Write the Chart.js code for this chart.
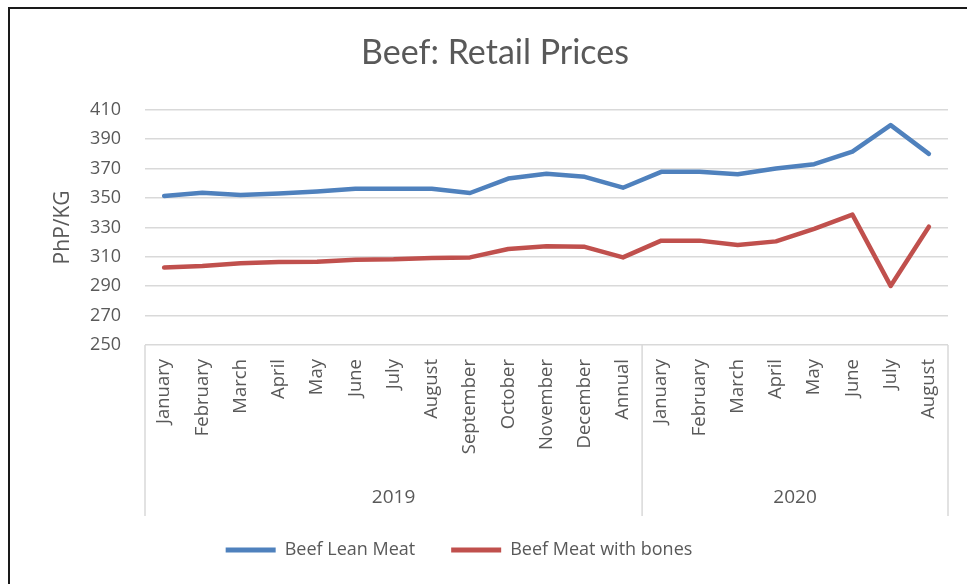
<!DOCTYPE html>
<html>
<head>
<meta charset="utf-8">
<title>Beef: Retail Prices</title>
<script src="https://cdn.jsdelivr.net/npm/chart.js@4.4.1/dist/chart.umd.min.js"></script>
<style>
body { margin: 0; background: #fff; }
#wrap { position: relative; width: 967px; height: 584px; overflow: hidden; }
#frame { position: absolute; left: 8px; top: 7px; width: 980px; height: 600px;
         border-top: 2px solid #1a1a1a; border-left: 2px solid #1a1a1a; pointer-events: none; }
canvas { position: absolute; left: 0; top: 0; }
</style>
</head>
<body>
<div id="wrap">
<canvas id="beefChart" width="967" height="584"></canvas>
<div id="frame"></div>
</div>
<script>
// month labels, 2019 (with Annual) then 2020
const months = [
    "January", "February", "March", "April", "May", "June", "July",
    "August", "September", "October", "November", "December", "Annual",
    "January", "February", "March", "April", "May", "June", "July", "August"
];

// year groups and how many categories each one covers
const years = ["2019", "2020"];
const yearSpans = [13, 8];

// PhP per KG
const leanMeat = [
    351.4, 353.5, 352, 353, 354.5, 356.3, 356.3, 356.3, 353.4, 363.2, 366.5, 364.4, 357,
    367.8, 367.8, 366.2, 370, 373, 381.5, 399.6, 380
];

const withBones = [
    302.7, 303.8, 305.6, 306.5, 306.6, 308, 308.3, 309.2, 309.6, 315.3, 317.2, 316.8, 309.6,
    321, 321, 318, 320.5, 329, 338.7, 290.2, 330.5
];

const yMin = 250;
const yMax = 410;
const yStep = 20;

const textColor = "#595959";

// draws the 2019 / 2020 row and the group divider lines under the months
const yearAxis = {
    id: "yearAxis",
    afterLayout(chart) {
        // title sits a bit right of centre, legend a bit left, like the original
        chart.titleBlock.left += 32;
        chart.legend.right -= 40;
    },
    afterDraw(chart) {
        const x = chart.scales.x;
        const ctx = chart.ctx;
        const half = (x.getPixelForValue(1) - x.getPixelForValue(0)) / 2;
        const top = x.top;
        const bottom = x.top + 171;

        ctx.save();
        ctx.strokeStyle = "#d9d9d9";
        ctx.lineWidth = 1.5;
        ctx.fillStyle = textColor;
        ctx.font = "19px 'Open Sans'";
        ctx.textAlign = "center";
        ctx.textBaseline = "middle";

        let start = 0;
        years.forEach((year, i) => {
            const last = start + yearSpans[i] - 1;
            const left = x.getPixelForValue(start) - half;
            const right = x.getPixelForValue(last) + half;

            ctx.beginPath();
            ctx.moveTo(left, top);
            ctx.lineTo(left, bottom);
            if (i === years.length - 1) {
                ctx.moveTo(right, top);
                ctx.lineTo(right, bottom);
            }
            ctx.stroke();

            ctx.fillText(year, (left + right) / 2, top + 153);
            start = last + 1;
        });
        ctx.restore();
    }
};

const ctx = document.getElementById("beefChart").getContext("2d");

new Chart(ctx, {
    type: "line",
    data: {
        labels: months,
        datasets: [
            {
                label: "Beef Lean Meat",
                data: leanMeat,
                borderColor: "#4F81BD",
                backgroundColor: "#4F81BD",
                borderWidth: 4.5,
                pointRadius: 0,
                tension: 0,
                borderJoinStyle: "round",
                borderCapStyle: "round"
            },
            {
                label: "Beef Meat with bones",
                data: withBones,
                borderColor: "#C0504D",
                backgroundColor: "#C0504D",
                borderWidth: 4.5,
                pointRadius: 0,
                tension: 0,
                borderJoinStyle: "round",
                borderCapStyle: "round"
            }
        ]
    },
    options: {
        responsive: false,
        animation: false,
        layout: {
            padding: { left: 10, right: 19, top: 0, bottom: 15 }
        },
        plugins: {
            title: {
                display: true,
                text: "Beef: Retail Prices",
                color: textColor,
                font: { family: "Lato", size: 34, weight: "normal" },
                padding: { top: 33, bottom: 36 }
            },
            legend: {
                position: "bottom",
                labels: {
                    color: textColor,
                    font: { family: "Open Sans", size: 18 },
                    boxWidth: 50,
                    boxHeight: 5,
                    padding: 36,
                    generateLabels(chart) {
                        return Chart.defaults.plugins.legend.labels.generateLabels(chart)
                        .map(item => ({ ...item, lineWidth: 0 }));
                    }
                }
            },
            tooltip: { enabled: false }
        },
        scales: {
            x: {
                offset: true,
                grid: { display: false },
                border: { display: false },
                ticks: {
                    autoSkip: false,
                    minRotation: 90,
                    maxRotation: 90,
                    padding: 6,
                    color: textColor,
                    font: { family: "Open Sans", size: 18.5 }
                },
                afterFit(scale) {
                    scale.height = 160;
                }
            },
            y: {
                min: yMin,
                max: yMax,
                ticks: {
                    stepSize: yStep,
                    padding: 24,
                    color: textColor,
                    font: { family: "Open Sans", size: 18 }
                },
                grid: {
                    color: "#d9d9d9",
                    lineWidth: 1.5,
                    drawTicks: false
                },
                border: { display: false },
                title: {
                    display: true,
                    text: "PhP/KG",
                    color: textColor,
                    font: { family: "Open Sans", size: 21 },
                    padding: { top: 40, bottom: 0 }
                },
                afterFit(scale) {
                    scale.width = 135;
                }
            }
        }
    },
    plugins: [yearAxis]
});
</script>
</body>
</html>
